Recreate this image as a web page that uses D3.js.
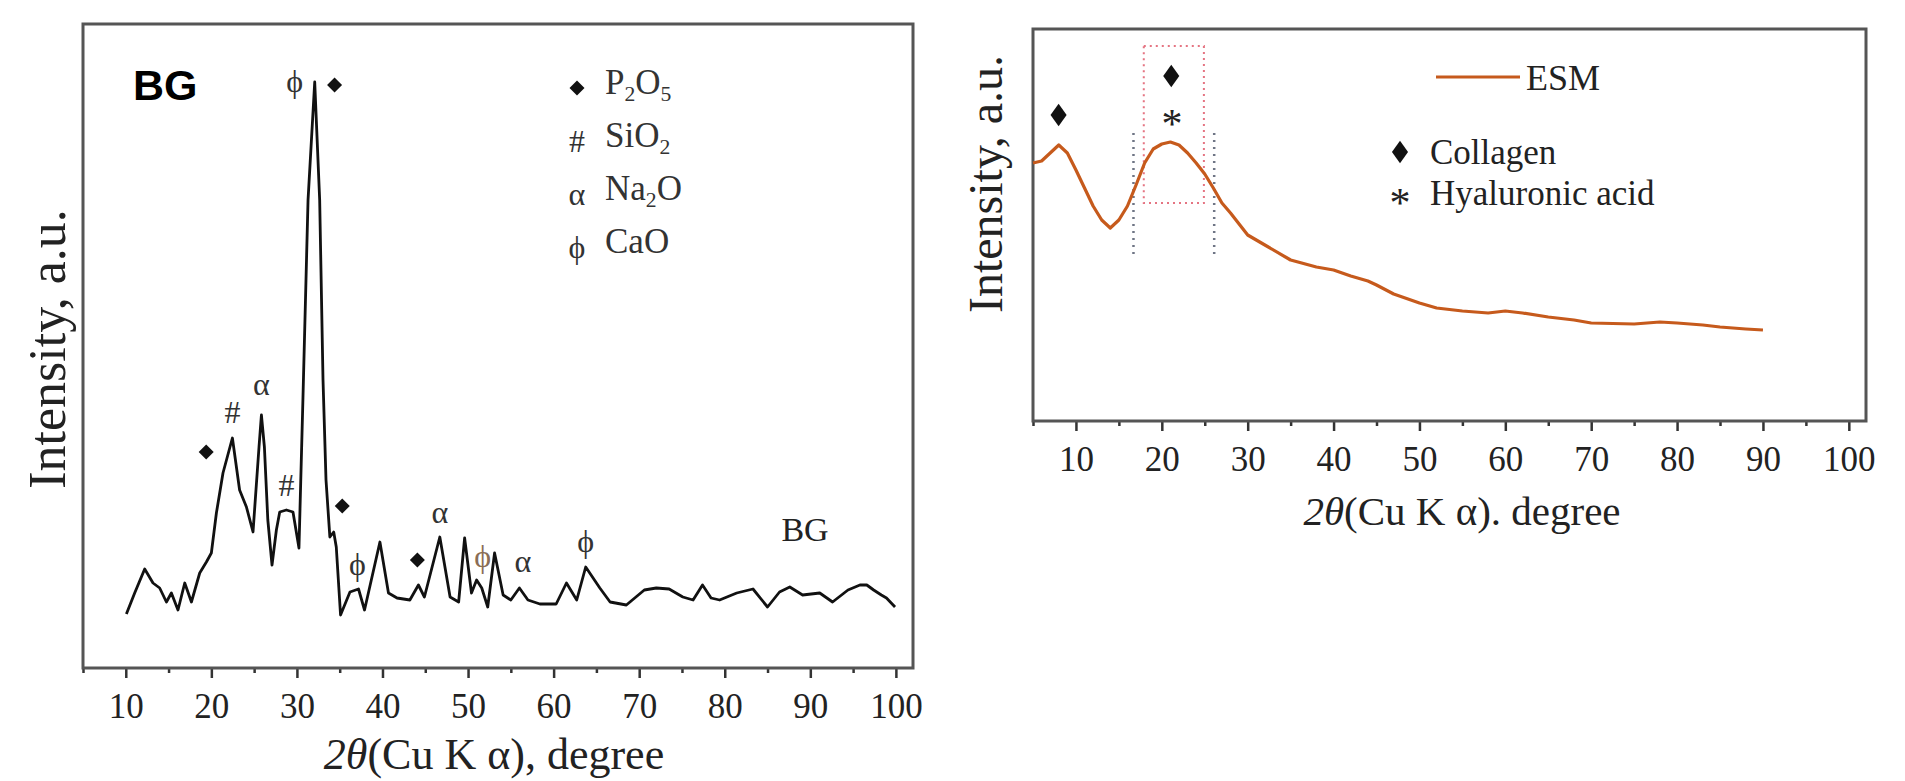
<!DOCTYPE html>
<html>
<head>
<meta charset="utf-8">
<script src="https://cdn.jsdelivr.net/npm/d3@7"></script>
<style>
  body { margin: 0; background: #fff; }
  svg { display: block; font-family: "Liberation Serif", "Times New Roman", serif; }
</style>
</head>
<body>
<svg></svg>
<script>
// XRD patterns: 2-theta (deg) and intensity (a.u.)
let bgTheta = [10.07, 11.04, 12.21, 13.18, 13.96, 14.75, 15.33, 16.1, 16.89, 17.67, 18.64, 19.42, 20.0, 20.59,
  21.36, 22.46, 23.3, 24.1, 24.87, 25.57, 25.85, 26.2, 26.6, 27.09, 27.6, 27.99, 28.77, 29.54, 30.24, 30.7,
  31.3, 32.08, 32.66, 33.05, 33.4, 33.85, 34.3, 34.6, 35.1, 36.2, 37.2, 37.9, 39.7, 40.7, 41.7, 43.2, 44.2,
  44.9, 46.7, 47.9, 48.9, 49.6, 50.4, 51.0, 51.6, 52.3, 53.1, 54.1, 55.0, 56.0, 57.0, 58.4, 60.3, 61.5, 62.7,
  63.75, 65.4, 66.6, 68.5, 70.6, 72.0, 73.5, 75.1, 76.3, 77.4, 78.4, 79.4, 81.4, 83.3, 85.0, 86.4, 87.6, 89.1,
  91.1, 92.6, 94.4, 95.8, 96.6, 97.4, 98.3, 98.9, 99.9]
let bgIntensity = [54, 75, 99, 85, 80, 66, 75, 58, 85, 66, 95, 106, 115, 155,
  195, 230, 178, 161, 136, 221, 253, 221, 148, 103, 138, 156, 158, 156, 120, 268,
  468, 586, 468, 288, 188, 131, 136, 121, 53, 76, 79, 58, 126, 75, 70, 68, 83,
  71, 131, 71, 66, 130, 75, 88, 80, 61, 115, 73, 68, 80, 68, 64, 64, 85, 68,
  101, 80, 66, 63, 78, 80, 79, 71, 68, 83, 70, 68, 75, 79, 61, 76, 81, 73,
  75, 66, 78, 83, 83, 78, 73, 70, 61]

let esmTheta = [5, 6, 7, 8, 9, 10, 11, 12, 13, 14, 15, 16, 17, 18, 19, 20, 21, 22, 23, 24, 25, 26, 27, 28, 29, 30,
  32, 35, 38, 40, 42, 44, 45, 47, 50, 52, 55, 58, 60, 62, 65, 68, 70, 75, 78, 80, 83, 85, 88, 90]
let esmIntensity = [258, 260, 268, 276, 268, 251, 233, 215, 201, 193, 201, 215, 236, 258, 272, 277, 279, 276, 268, 258,
  247, 233, 218, 208, 197, 186, 176, 161, 154, 151, 145, 140, 136, 127, 118, 113, 110, 108, 110, 108,
  104, 101, 98, 97, 99, 98, 96, 94, 92, 91]

let xTicks = [10, 20, 30, 40, 50, 60, 70, 80, 90, 100]
let xMinorTicks = [5, 15, 25, 35, 45, 55, 65, 75, 85, 95]

// phase marks above the BG peaks
let bgMarkTheta = [29.75, 34.4, 19.4, 22.46, 25.85, 28.77, 35.3, 37.07, 44.08, 46.7, 51.7, 56.4, 63.75]
let bgMarkHeight = [586, 583, 216, 255, 283, 182, 162, 103, 108, 155, 111, 106, 126]
let bgMarkPhase = ["CaO", "P2O5", "P2O5", "SiO2", "Na2O", "SiO2", "P2O5", "CaO", "P2O5", "Na2O", "CaO", "Na2O", "CaO"]
let bgPhases = ["P2O5", "SiO2", "Na2O", "CaO"]
let phaseGlyph = { P2O5: "diamond", SiO2: "#", Na2O: "α", CaO: "ϕ" }

// ESM marks
let esmMarkTheta = [7.98, 21.1, 21.2]
let esmMarkHeight = [306, 345, 304]
let esmMarkKind = ["Collagen", "Collagen", "Hyaluronic acid"]
let esmKinds = ["Collagen", "Hyaluronic acid"]
let esmBoxTheta = [17.9, 24.9]
let esmBoxHeight = [218, 375]
let esmGuideTheta = [16.7, 26.1]
let esmGuideHeight = [167, 288]

let width = 1905
let height = 781
let orange = "#c65a1c"

let svg = d3.select("svg").attr("width", width).attr("height", height)

let left = { x0: 83, x1: 913, y0: 24, y1: 668 }
let right = { x0: 1033, x1: 1866, y0: 29, y1: 421 }

let xLeft = d3.scaleLinear().domain([5, 102]).range([left.x0, left.x1])
let yLeft = d3.scaleLinear().domain([0, 644]).range([left.y1, left.y0])
let xRight = d3.scaleLinear().domain([5, 102]).range([right.x0, right.x1])
let yRight = d3.scaleLinear().domain([0, 392]).range([right.y1, right.y0])

let diamond = (w, h) => d3.symbol().type(d3.symbolSquare).size(w * h / 2)()

// chemical formula with subscript digits
let formula = (sel, text, size) => {
  text.split(/(\d)/).filter(s => s !== "").forEach(part => {
    if (/\d/.test(part)) {
      sel.append("tspan").attr("font-size", size * 0.62).attr("dy", 7).text(part)
    } else {
      sel.append("tspan").attr("font-size", size).attr("dy", sel.selectAll("tspan").size() ? -7 : 0).text(part)
    }
  })
}

let drawFrame = (box, xScale) => {
  let major = d3.axisBottom(xScale).tickValues(xTicks).tickSize(10).tickFormat(d3.format("d"))
  let minor = d3.axisBottom(xScale).tickValues(xMinorTicks).tickSize(5).tickFormat("")
  svg.append("g")
     .attr("transform", "translate(0," + box.y1 + ")")
     .call(minor)
     .call(g => g.select(".domain").remove())
     .call(g => g.selectAll("line").attr("stroke", "#333").attr("stroke-width", 2.5))
  svg.append("g")
     .attr("transform", "translate(0," + box.y1 + ")")
     .call(major)
     .call(g => g.select(".domain").remove())
     .call(g => g.selectAll("line").attr("stroke", "#333").attr("stroke-width", 2.5))
     .call(g => g.selectAll("text")
        .attr("y", 50).attr("dy", null)
        .attr("font-family", "Liberation Serif").attr("font-size", 35).attr("fill", "#222"))
  svg.append("rect")
     .attr("x", box.x0).attr("y", box.y0)
     .attr("width", box.x1 - box.x0).attr("height", box.y1 - box.y0)
     .attr("fill", "none").attr("stroke", "#555").attr("stroke-width", 3)
}

let xTitle = (cx, baseline, sep, size) => {
  let t = svg.append("text").attr("x", cx).attr("y", baseline)
     .attr("text-anchor", "middle").attr("font-size", size).attr("fill", "#222")
  t.append("tspan").attr("font-style", "italic").text("2θ")
  t.append("tspan").text("(Cu K α)" + sep + " degree")
}

let yTitle = (x, cy, size) => {
  svg.append("text")
     .attr("transform", "translate(" + x + "," + cy + ") rotate(-90)")
     .attr("text-anchor", "middle").attr("font-size", size).attr("fill", "#222")
     .text("Intensity, a.u.")
}

// ---------- left panel: BG ----------
drawFrame(left, xLeft)
xTitle(494, 769, ",", 44)
yTitle(65, 349, 52)

svg.append("path")
   .datum(d3.zip(bgTheta, bgIntensity))
   .attr("fill", "none").attr("stroke", "#111").attr("stroke-width", 2.8)
   .attr("stroke-linejoin", "round")
   .attr("d", d3.line().x(d => xLeft(d[0])).y(d => yLeft(d[1])))

let bgMarks = svg.append("g")
bgMarkTheta.forEach((t, i) => {
  let glyph = phaseGlyph[bgMarkPhase[i]]
  let cx = xLeft(t), cy = yLeft(bgMarkHeight[i])
  if (glyph === "diamond") {
    bgMarks.append("path").attr("d", diamond(15, 15))
       .attr("transform", "translate(" + cx + "," + cy + ") rotate(45)").attr("fill", "#111")
  } else {
    bgMarks.append("text").attr("x", cx).attr("y", cy + 10)
       .attr("text-anchor", "middle").attr("font-size", 32)
       .attr("fill", bgMarkPhase[i] === "CaO" && t > 50 && t < 55 ? "#8a6d55" : "#333")
       .text(glyph)
  }
})

svg.append("text").attr("x", 805).attr("y", yLeft(127))
   .attr("text-anchor", "middle").attr("font-size", 34).attr("fill", "#222").text("BG")

svg.append("text").attr("x", 133).attr("y", 100)
   .attr("font-family", "Liberation Sans, Arial, sans-serif").attr("font-weight", "bold")
   .attr("font-size", 43).attr("fill", "#000").text("BG")

// legend
bgPhases.forEach((p, i) => {
  let base = 101 + i * 53
  let glyph = phaseGlyph[p]
  if (glyph === "diamond") {
    svg.append("path").attr("d", diamond(15, 15))
       .attr("transform", "translate(577," + (base - 13) + ") rotate(45)").attr("fill", "#111")
  } else {
    svg.append("text").attr("x", 577).attr("y", base - 2).attr("text-anchor", "middle")
       .attr("font-size", 32).attr("fill", "#333").text(glyph)
  }
  let t = svg.append("text").attr("x", 605).attr("y", base).attr("fill", "#333")
  formula(t, p, 35)
})

// ---------- right panel: ESM ----------
drawFrame(right, xRight)
xTitle(1462, 525, ".", 41)
yTitle(1002, 184, 48)

// dotted highlight box and guide lines
svg.append("rect")
   .attr("x", xRight(esmBoxTheta[0])).attr("y", yRight(esmBoxHeight[1]))
   .attr("width", xRight(esmBoxTheta[1]) - xRight(esmBoxTheta[0]))
   .attr("height", yRight(esmBoxHeight[0]) - yRight(esmBoxHeight[1]))
   .attr("fill", "none").attr("stroke", "#e57482").attr("stroke-width", 2)
   .attr("stroke-dasharray", "2,4")
svg.selectAll(".guide")
   .data(esmGuideTheta)
   .enter()
   .append("line")
   .attr("class", "guide")
   .attr("x1", d => xRight(d)).attr("x2", d => xRight(d))
   .attr("y1", yRight(esmGuideHeight[1])).attr("y2", yRight(esmGuideHeight[0]))
   .attr("stroke", "#6f7585").attr("stroke-width", 2.5).attr("stroke-dasharray", "2,5")

svg.append("path")
   .datum(d3.zip(esmTheta, esmIntensity))
   .attr("fill", "none").attr("stroke", orange).attr("stroke-width", 3.2)
   .attr("stroke-linejoin", "round")
   .attr("d", d3.line().x(d => xRight(d[0])).y(d => yRight(d[1])))

esmMarkTheta.forEach((t, i) => {
  let cx = xRight(t), cy = yRight(esmMarkHeight[i])
  if (esmMarkKind[i] === "Collagen") {
    svg.append("path").attr("d", diamond(14, 14))
       .attr("transform", "translate(" + cx + "," + cy + ") scale(1.15,1.6) rotate(45)").attr("fill", "#111")
  } else {
    svg.append("text").attr("x", cx).attr("y", cy + 21).attr("text-anchor", "middle")
       .attr("font-size", 42).attr("fill", "#222").text("*")
  }
})

// legend
svg.append("line").attr("x1", 1436).attr("x2", 1520).attr("y1", 77).attr("y2", 77)
   .attr("stroke", orange).attr("stroke-width", 3.2)
svg.append("text").attr("x", 1526).attr("y", 90).attr("font-size", 36).attr("fill", "#222").text("ESM")

esmKinds.forEach((k, i) => {
  let base = 164 + i * 41
  if (k === "Collagen") {
    svg.append("path").attr("d", diamond(14, 14))
       .attr("transform", "translate(1400," + (base - 12) + ") scale(1.15,1.6) rotate(45)").attr("fill", "#111")
  } else {
    svg.append("text").attr("x", 1400).attr("y", base + 12).attr("text-anchor", "middle")
       .attr("font-size", 42).attr("fill", "#222").text("*")
  }
  svg.append("text").attr("x", 1430).attr("y", base).attr("font-size", 35).attr("fill", "#222").text(k)
})
</script>
</body>
</html>
